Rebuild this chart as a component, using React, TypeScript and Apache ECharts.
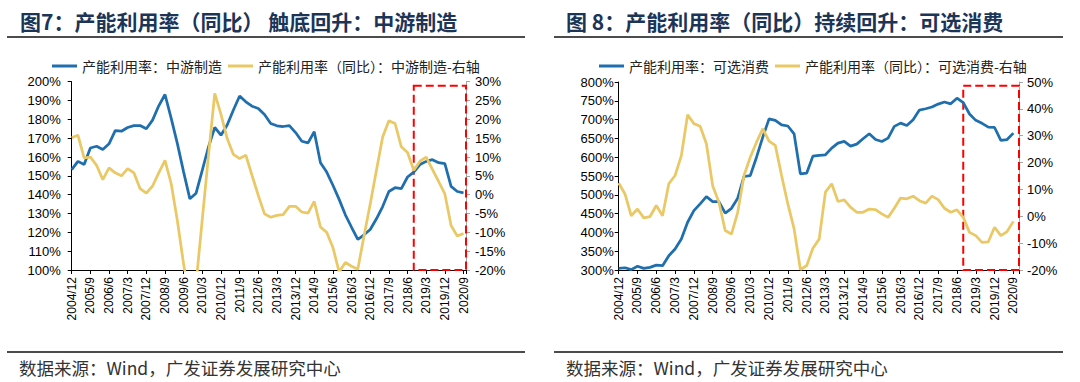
import React, { useEffect, useRef } from "react";
import * as echarts from "echarts";

// Quarterly categories 2004/12 … 2020/9
const quarters = [
  "2004/12",
  "2005/3", "2005/6", "2005/9", "2005/12",
  "2006/3", "2006/6", "2006/9", "2006/12",
  "2007/3", "2007/6", "2007/9", "2007/12",
  "2008/3", "2008/6", "2008/9", "2008/12",
  "2009/3", "2009/6", "2009/9", "2009/12",
  "2010/3", "2010/6", "2010/9", "2010/12",
  "2011/3", "2011/6", "2011/9", "2011/12",
  "2012/3", "2012/6", "2012/9", "2012/12",
  "2013/3", "2013/6", "2013/9", "2013/12",
  "2014/3", "2014/6", "2014/9", "2014/12",
  "2015/3", "2015/6", "2015/9", "2015/12",
  "2016/3", "2016/6", "2016/9", "2016/12",
  "2017/3", "2017/6", "2017/9", "2017/12",
  "2018/3", "2018/6", "2018/9", "2018/12",
  "2019/3", "2019/6", "2019/9", "2019/12",
  "2020/3", "2020/6", "2020/9",
];

// Figure 7: 中游制造
const midLevel = [
  153.3, 157.7, 156, 164.8, 165.7, 164, 167, 174, 173.7, 175.7,
  176.7, 176.7, 175, 179.6, 187.2, 193.2, 180.5, 167, 152, 137.8,
  140.8, 153, 165.4, 175.7, 171.6, 177, 185, 192.4, 189.3, 187,
  185.8, 182.6, 177.8, 176.6, 176.2, 176.7, 173, 168.4, 167.5, 173.4,
  157, 152, 145, 137.5, 129.3, 122.7, 116.2, 118.7, 121.5, 127.2,
  133.7, 141.7, 143.7, 143.2, 149.4, 152, 156, 157.7, 158.6, 157,
  156.5, 144.4, 141.7, 141,
];
const midYoY = [
  15.1, 15.8, 9.8, 10, 7.8, 4, 7.1, 5.8, 5, 6.9,
  5.8, 1.6, 0.4, 2.3, 5.8, 9.1, 2.9, -7, -18.5, -28,
  -23.5, -6.5, 10.5, 26.9, 21.3, 14.9, 10.7, 9.6, 10.5, 5.1,
  -0.2, -5.1, -6, -5.5, -5.3, -3.1, -3.1, -4.6, -4.9, -1.8,
  -8.6, -10, -14, -20.5, -18, -19, -19.8, -11, -2.5, 6.5,
  15.3, 19.6, 18.9, 12.7, 11.2, 6.5, 8.9, 10, 6.7, 3.5,
  0.2, -8.2, -11, -10.3,
];

// Figure 8: 可选消费
const consLevel = [
  304.4, 306, 301, 310, 304.4, 307, 313, 311.5, 338, 356,
  382.6, 427, 458, 476, 495, 482, 482, 451, 464, 491,
  548.7, 551, 600, 653.5, 702, 698, 686, 683, 662, 555.8,
  557.5, 602.8, 604.6, 606.4, 624, 637.4, 641.9, 629.5, 634.9, 649,
  662.3, 647.2, 641.9, 650.8, 681.9, 690.7, 684.5, 699.6, 725.4, 728.9,
  733.4, 741.3, 746.7, 742, 757, 745, 715, 698, 690, 680,
  679, 645, 647, 664,
];
const consYoY = [
  12.4, 8.3, 0.2, 2.7, -0.6, -0.1, 4, 0.2, 12.1, 15.2,
  22.6, 37.8, 34.5, 33.5, 27, 11.4, 5.2, -5.3, -6.6, 1.5,
  15.2, 22, 27.6, 32.6, 28, 26.4, 15.2, 4.6, -4.7, -19.8,
  -18.4, -11.9, -8.5, 9, 12.1, 5.5, 6.1, 3.4, 1.5, 1.5,
  2.7, 2.5, 0.9, -0.4, 3, 6.8, 6.5, 7.5, 5.8, 4.9,
  7.5, 6.2, 3, 1.5, 2.4, -0.4, -6, -7.2, -9.7, -9.5,
  -4.1, -7.2, -5.7, -1.9,
];

const titles = [
  "图7：产能利用率（同比） 触底回升：中游制造",
  "图 8：产能利用率（同比）持续回升：可选消费",
];
const names = [
  ["产能利用率：中游制造", "产能利用率（同比）：中游制造-右轴"],
  ["产能利用率：可选消费", "产能利用率（同比）：可选消费-右轴"],
];
const source = "数据来源：Wind，广发证券发展研究中心";
const highlightStart = 55; // 2018/9

const BLUE = "#1f6eae";
const YELLOW = "#e9c865";
const CJK = "'Noto Sans CJK SC', 'Noto Sans', sans-serif";
const LATIN = "'Liberation Sans', Arial, sans-serif";

export default function App() {
  const ref = useRef<HTMLDivElement>(null);

  useEffect(() => {
    if (!ref.current) return;
    const chart = echarts.init(ref.current, undefined, { renderer: "svg" });

    const xMax = [63.4, 63.9];
    const xLabel = (v: number) =>
      Number.isInteger(v) && v % 3 === 0 && quarters[v] ? quarters[v] : "";

    const mkX = (g: number) => ({
      type: "value",
      gridIndex: g,
      min: 0,
      max: xMax[g],
      interval: 3,
      axisLine: { show: true, onZero: false, lineStyle: { color: "#000", width: 1 } },
      axisTick: { show: true, length: 4, lineStyle: { color: "#000" } },
      axisLabel: {
        rotate: 90,
        formatter: xLabel,
        fontSize: 12,
        color: "#000",
        margin: 7,
        fontFamily: LATIN,
      },
      splitLine: { show: false },
    });

    const mkY = (
      g: number,
      pos: "left" | "right",
      min: number,
      max: number,
      interval: number,
      lineColor: string,
      margin: number
    ) => ({
      type: "value",
      gridIndex: g,
      position: pos,
      min,
      max,
      interval,
      axisLine: { show: true, onZero: false, lineStyle: { color: lineColor, width: 1 } },
      axisTick: { show: true, length: 4, lineStyle: { color: lineColor } },
      axisLabel: {
        formatter: "{value}%",
        fontSize: 13,
        color: "#000",
        margin,
        fontFamily: LATIN,
      },
      splitLine: { show: false },
    });

    const box = (top: number, right: number) => ({
      silent: true,
      label: { show: false },
      itemStyle: {
        color: "rgba(0,0,0,0)",
        borderColor: "#ff0000",
        borderWidth: 2,
        borderType: [8, 4],
      },
      data: [[{ xAxis: highlightStart, yAxis: top }, { xAxis: right, yAxis: -20 }]],
    });

    const lineSeries = (
      name: string,
      data: number[],
      g: number,
      yIdx: number,
      color: string,
      extra: any = {}
    ) => ({
      name,
      type: "line",
      xAxisIndex: g,
      yAxisIndex: yIdx,
      data: data.map((v, i) => [i, v]),
      symbol: "none",
      showSymbol: false,
      lineStyle: { color, width: 2.75 },
      itemStyle: { color },
      ...extra,
    });

    const legend = (left: number, data: string[]) => ({
      left,
      top: 54,
      icon: "rect",
      itemWidth: 25,
      itemHeight: 3,
      itemGap: 6,
      data,
      textStyle: { fontSize: 14, color: "#222", fontFamily: CJK },
    });

    const option: any = {
      animation: false,
      backgroundColor: "#fff",
      grid: [
        { left: 71.7, right: 1080 - 466, top: 81.7, bottom: 382 - 270 },
        { left: 618.7, right: 1080 - 1019, top: 82, bottom: 382 - 270 },
      ],
      legend: [legend(47, names[0]), legend(594, names[1])],
      xAxis: [mkX(0), mkX(1)],
      yAxis: [
        mkY(0, "left", 100, 200, 10, "#000", 11),
        mkY(0, "right", -20, 30, 5, "#a6a6a6", 9),
        mkY(1, "left", 300, 800, 50, "#000", 5),
        mkY(1, "right", -20, 50, 10, "#a6a6a6", 8),
      ],
      series: [
        lineSeries(names[0][0], midLevel, 0, 0, BLUE),
        lineSeries(names[0][1], midYoY, 0, 1, YELLOW, { markArea: box(28.9, xMax[0]) }),
        lineSeries(names[1][0], consLevel, 1, 2, BLUE),
        lineSeries(names[1][1], consYoY, 1, 3, YELLOW, { markArea: box(48.6, xMax[1]) }),
      ],
      graphic: [
        {
          type: "text",
          left: 20,
          top: 10,
          style: { text: titles[0], fontSize: 21, fontWeight: "bold", fill: "#1c3557", fontFamily: CJK },
        },
        {
          type: "text",
          left: 566,
          top: 10,
          style: { text: titles[1], fontSize: 21, fontWeight: "bold", fill: "#1c3557", fontFamily: CJK },
        },
        { type: "line", shape: { x1: 7, y1: 37, x2: 525, y2: 37 }, style: { stroke: "#111", lineWidth: 1.5 } },
        { type: "line", shape: { x1: 554, y1: 37, x2: 1063, y2: 37 }, style: { stroke: "#111", lineWidth: 1.5 } },
        { type: "line", shape: { x1: 7, y1: 352, x2: 525, y2: 352 }, style: { stroke: "#111", lineWidth: 1.5 } },
        { type: "line", shape: { x1: 554, y1: 352, x2: 1063, y2: 352 }, style: { stroke: "#111", lineWidth: 1.5 } },
        {
          type: "text",
          left: 19,
          top: 359,
          style: { text: source, fontSize: 17.5, fill: "#333", fontFamily: CJK },
        },
        {
          type: "text",
          left: 566,
          top: 359,
          style: { text: source, fontSize: 17.5, fill: "#333", fontFamily: CJK },
        },
      ],
    };

    chart.setOption(option);
    return () => chart.dispose();
  }, []);

  return (
    <div
      ref={ref}
      style={{ position: "absolute", left: 0, top: 0, width: 1080, height: 382, background: "#fff" }}
    />
  );
}
